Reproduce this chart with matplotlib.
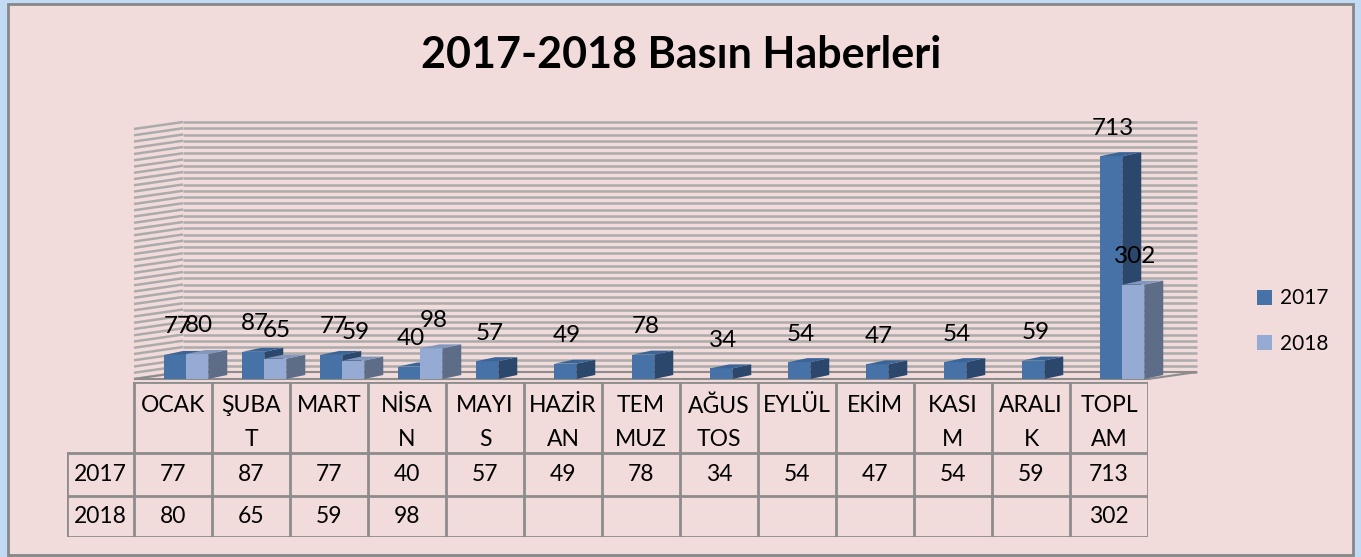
import matplotlib
matplotlib.use('Agg')
import matplotlib.pyplot as plt
from matplotlib.patches import Polygon, Rectangle, Patch

# ── data ──
months = ['OCAK', 'ŞUBAT', 'MART', 'NİSAN', 'MAYIS', 'HAZİRAN', 'TEMMUZ',
          'AĞUSTOS', 'EYLÜL', 'EKİM', 'KASIM', 'ARALIK', 'TOPLAM']
# header text as Excel wrapped it in the narrow table cells
header_lines = ['OCAK', 'ŞUBA\nT', 'MART', 'NİSA\nN', 'MAYI\nS', 'HAZİR\nAN',
                'TEM\nMUZ', 'AĞUS\nTOS', 'EYLÜL', 'EKİM', 'KASI\nM', 'ARALI\nK',
                'TOPL\nAM']
series_names = ['2017', '2018']
vals_2017 = [77, 87, 77, 40, 57, 49, 78, 34, 54, 47, 54, 59, 713]
vals_2018 = [80, 65, 59, 98, None, None, None, None, None, None, None, None, 302]

W, H = 1361, 557
BG = '#F2DCDB'
GRID = '#ABABAB'
LINE = '#8C8C8C'
FONT = 'Lato'

plt.rcParams['font.family'] = [FONT, 'DejaVu Sans']

fig = plt.figure(figsize=(W / 100, H / 100), dpi=100, facecolor='#C3DAF5')
fig.patches.append(Rectangle((8 / W, 2 / H), 1345 / W, 551 / H, transform=fig.transFigure,
                             facecolor=BG, edgecolor='#878787', lw=2, zorder=-10))

fig.text(681 / W, 1 - 55 / H, '2017-2018 Basın Haberleri', ha='center', va='center',
         fontsize=31, fontweight='bold', color='black')

# ── chart area (front plane) ──
x0, x1 = 134, 1148
y_zero, y_top = 379, 129
ax = fig.add_axes([x0 / W, (H - y_zero) / H, (x1 - x0) / W, (y_zero - y_top) / H])
ax.set_xlim(0, len(months))
ax.set_ylim(0, 800)
ax.axis('off')

px_x = len(months) / (x1 - x0)        # category units per pixel
px_y = 800 / (y_zero - y_top)         # value units per pixel
dX, dY = 49 * px_x, 7 * px_y          # wall depth
n = len(months)

# back wall + side wall gridlines
for v in range(0, 801, 20):
    ax.plot([dX, n + dX], [v + dY, v + dY], color=GRID, lw=1.8, zorder=1, clip_on=False,
            solid_capstyle='butt')
    ax.plot([0, dX], [v, v + dY], color=GRID, lw=1.8, zorder=1, clip_on=False,
            solid_capstyle='butt')
# floor
ax.add_patch(Polygon([(0, 0), (n, 0), (n + dX, dY), (dX, dY)], closed=True,
                     facecolor=BG, edgecolor=LINE, lw=1.5, zorder=1.5, clip_on=False))

# bars with 3-D look
bw = 22 * px_x
bdx, bdy = 19 * px_x, 4 * px_y
shift = 0.17
styles = {
    '2017': dict(front='#4672A8', side='#2C476C', top='#3C6597'),
    '2018': dict(front='#95ABD4', side='#5D6D88', top='#8396BC'),
}


def draw_series(vals, off, st, z):
    xs = [i + 0.5 + shift + off for i, v in enumerate(vals) if v is not None]
    hs = [v for v in vals if v is not None]
    ax.bar(xs, hs, width=bw, color=st['front'], zorder=z, clip_on=False)
    for x, h in zip(xs, hs):
        l, r = x - bw / 2, x + bw / 2
        ax.add_patch(Polygon([(r, 0), (r + bdx, bdy), (r + bdx, h + bdy), (r, h)],
                             closed=True, facecolor=st['side'], lw=0, zorder=z, clip_on=False))
        ax.add_patch(Polygon([(l, h), (r, h), (r + bdx, h + bdy), (l + bdx, h + bdy)],
                             closed=True, facecolor=st['top'], lw=0, zorder=z, clip_on=False))
        ax.annotate(str(h), (x, h), xytext=(2, 28), textcoords='offset pixels',
                    ha='center', va='center', fontsize=17.5, color='black', zorder=10)


draw_series(vals_2017, -bw / 2, styles['2017'], 3)
draw_series(vals_2018, bw / 2, styles['2018'], 4)

# legend
handles = [Patch(facecolor=styles[s]['front'], edgecolor='none') for s in series_names]
fig.legend(handles, series_names, loc='center left',
           bbox_to_anchor=(1238 / W, 1 - 321 / H), frameon=False, fontsize=15,
           handlelength=0.75, handleheight=0.75, handletextpad=0.35, labelspacing=1.2)

# ── data table ──
t_left, t_top, t_bot = 67, 382, 537
tax = fig.add_axes([t_left / W, (H - t_bot) / H, (x1 - t_left) / W, (t_bot - t_top) / H])
xl = -(x0 - t_left) * px_x
tax.set_xlim(xl, n)
tax.set_ylim(t_bot - t_top, 0)
tax.axis('off')

r_head, r_1, r_2 = 71, 114, 155
kw = dict(color=LINE, lw=2, solid_capstyle='projecting')
tax.plot([0, n], [0, 0], **kw)
for yy in (r_head, r_1, r_2):
    tax.plot([xl, n], [yy, yy], **kw)
for i in range(n + 1):
    tax.plot([i, i], [0, r_2], **kw)
tax.plot([xl, xl], [r_head, r_2], **kw)

for i, lab in enumerate(header_lines):
    for j, part in enumerate(lab.split('\n')):
        tax.text(i + 0.5, 24 + 34 * j, part, ha='center', va='center', fontsize=16.5)

for name, vals, yc in ((series_names[0], vals_2017, (r_head + r_1) / 2),
                       (series_names[1], vals_2018, (r_1 + r_2) / 2)):
    tax.text(xl / 2, yc, name, ha='center', va='center', fontsize=16.5)
    for i, v in enumerate(vals):
        if v is not None:
            tax.text(i + 0.5, yc, str(v), ha='center', va='center', fontsize=16.5)

fig.savefig('out.png', dpi=100, facecolor=fig.get_facecolor())
